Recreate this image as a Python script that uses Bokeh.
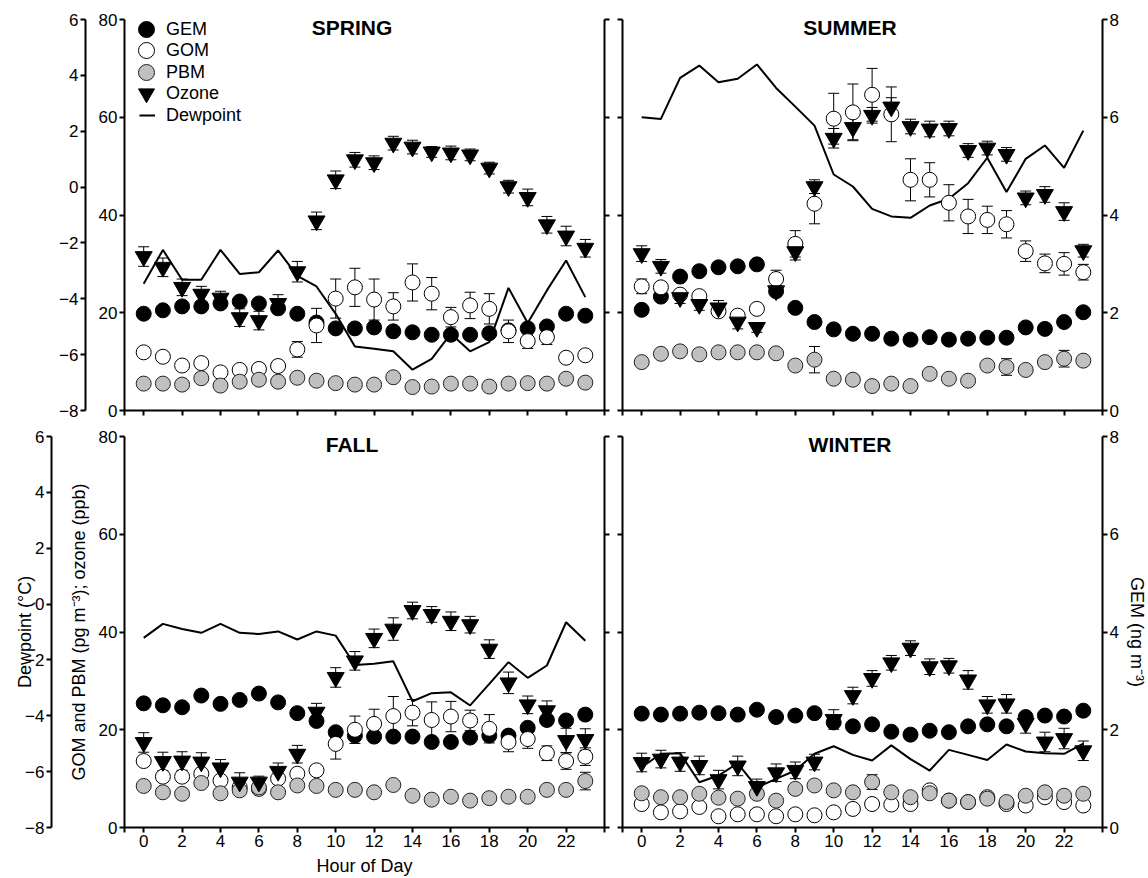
from bokeh.plotting import figure
from bokeh.models import (Range1d, LinearAxis, FixedTicker, ColumnDataSource, Whisker,
                          TeeHead, Legend, LegendItem, Label)
from bokeh.layouts import column, row
from bokeh.embed import file_html
from bokeh.resources import INLINE

hours = list(range(24))
x_ticks = [-1] + list(range(0, 24, 2)) + [24]
left_ticks = [0, 20, 40, 60, 80]
dew_ticks = [-8, -6, -4, -2, 0, 2, 4, 6]
gem_ticks = [0, 2, 4, 6, 8]

# ---------------- SPRING ----------------
spring_gem = [1.98, 2.05, 2.13, 2.13, 2.19, 2.23, 2.19, 2.09, 1.98, 1.80, 1.68, 1.68,
              1.70, 1.62, 1.60, 1.55, 1.55, 1.55, 1.58, 1.64, 1.68, 1.72, 1.98, 1.94]
spring_gom = [11.9, 11.0, 9.2, 9.7, 7.8, 8.3, 8.5, 9.1, 12.5, 17.4, 22.9, 25.2,
              22.7, 21.3, 26.2, 23.9, 19.1, 21.5, 20.8, 16.2, 14.2, 15.0, 10.8, 11.3]
spring_gom_err = [1.0, 1.0, 1.0, 1.0, 1.0, 1.0, 1.0, 1.0, 1.6, 3.5, 4.0, 3.9,
                  4.2, 2.8, 3.8, 3.3, 2.0, 2.7, 3.1, 2.3, 1.5, 1.5, 1.0, 1.0]
spring_pbm = [5.5, 5.5, 5.3, 6.6, 5.1, 5.9, 6.3, 5.9, 6.7, 6.1, 5.6, 5.3,
              5.3, 6.8, 4.8, 4.9, 5.5, 5.5, 4.9, 5.5, 5.6, 5.5, 6.5, 5.7]
spring_pbm_err = [0.8] * 24
spring_ozone = [31.5, 29.3, 25.2, 23.8, 23.0, 19.0, 18.4, 21.9, 28.4, 38.8, 47.2, 51.3,
                50.7, 54.7, 53.9, 52.9, 52.7, 52.3, 49.6, 45.8, 43.6, 38.0, 35.7, 33.2]
spring_ozone_err = [2.0, 1.9, 1.7, 1.6, 1.4, 1.8, 1.9, 1.8, 2.1, 1.8, 1.8, 1.5,
                    1.4, 1.4, 1.4, 1.1, 1.4, 1.2, 1.2, 1.3, 1.7, 1.7, 2.0, 1.8]
spring_dew = [-3.46, -2.25, -3.32, -3.32, -2.25, -3.11, -3.05, -2.27, -3.18, -3.56, -4.54, -5.71,
              -5.79, -5.88, -6.54, -6.15, -5.25, -5.88, -5.55, -3.61, -4.87, -3.70, -2.63, -3.94]

# ---------------- SUMMER ----------------
summer_gem = [2.06, 2.33, 2.74, 2.85, 2.93, 2.95, 2.99, 2.44, 2.10, 1.81, 1.66, 1.57,
              1.57, 1.47, 1.45, 1.50, 1.45, 1.47, 1.49, 1.49, 1.70, 1.67, 1.81, 2.01]
summer_gom = [25.4, 25.2, 23.7, 23.4, 20.3, 19.4, 20.8, 26.9, 34.1, 42.3, 59.7, 61.0,
              64.6, 60.6, 47.2, 47.2, 42.5, 39.7, 39.0, 38.1, 32.6, 30.1, 30.0, 28.3]
summer_gom_err = [1.5, 1.0, 1.0, 1.0, 1.0, 1.0, 1.0, 1.8, 2.7, 4.1, 5.2, 5.8,
                  5.4, 5.6, 4.3, 3.5, 3.7, 3.5, 2.8, 2.8, 2.1, 1.9, 2.3, 1.6]
summer_pbm = [9.9, 11.6, 12.1, 11.5, 11.9, 11.9, 11.9, 11.7, 9.2, 10.4, 6.5, 6.3,
              5.0, 5.5, 5.0, 7.5, 6.5, 6.1, 9.2, 8.9, 8.3, 9.9, 10.6, 10.2]
summer_pbm_err = [0.8, 0.8, 0.8, 0.8, 0.8, 0.8, 0.8, 0.8, 0.8, 2.7, 0.8, 0.8,
                  0.8, 0.8, 0.8, 0.8, 0.8, 0.8, 0.8, 1.7, 0.8, 0.8, 1.7, 0.8]
summer_ozone = [32.1, 29.5, 23.1, 21.7, 21.0, 18.1, 17.0, 24.5, 32.5, 45.8, 55.7, 57.9,
                60.4, 62.1, 58.1, 57.6, 57.7, 53.2, 53.7, 52.4, 43.5, 44.2, 40.7, 32.7]
summer_ozone_err = [1.6, 1.4, 1.2, 1.2, 1.5, 1.4, 1.0, 1.0, 1.7, 1.4, 2.0, 2.5,
                    1.6, 1.9, 1.5, 1.6, 1.5, 1.4, 1.4, 1.4, 1.4, 1.6, 1.8, 1.3]
summer_dew = [2.50, 2.44, 3.91, 4.35, 3.75, 3.88, 4.39, 3.55, 2.88, 2.20, 0.45, 0.02,
              -0.78, -1.05, -1.10, -0.66, -0.42, 0.14, 1.05, -0.18, 1.01, 1.49, 0.69, 2.02]

# ---------------- FALL ----------------
fall_gem = [2.54, 2.50, 2.46, 2.70, 2.53, 2.61, 2.74, 2.56, 2.34, 2.18, 1.95, 1.88,
            1.86, 1.86, 1.86, 1.75, 1.75, 1.84, 1.88, 1.88, 2.04, 2.20, 2.19, 2.31]
fall_gom = [13.6, 10.4, 10.4, 11.0, 9.6, 8.2, 7.9, 10.0, 11.0, 11.7, 17.1, 20.0,
            21.2, 22.8, 23.5, 22.0, 22.7, 21.9, 20.2, 17.5, 18.1, 15.2, 13.6, 14.5]
fall_gom_err = [1.0, 1.0, 1.0, 1.0, 1.0, 1.0, 1.0, 1.0, 1.0, 1.0, 3.1, 2.8,
                3.0, 4.0, 2.7, 3.7, 3.1, 2.1, 2.9, 2.0, 1.9, 1.5, 1.7, 1.8]
fall_pbm = [8.5, 7.2, 6.9, 9.1, 7.0, 7.6, 8.2, 7.2, 8.6, 8.5, 7.7, 7.7,
            7.2, 8.7, 6.5, 5.7, 6.3, 5.5, 6.0, 6.3, 6.3, 7.7, 7.7, 9.5]
fall_pbm_err = [0.8] * 23 + [1.8]
fall_ozone = [17.4, 13.5, 13.6, 13.4, 12.2, 9.3, 9.3, 11.5, 15.0, 23.6, 30.7, 34.1,
              38.7, 40.6, 44.4, 43.6, 42.2, 41.5, 36.5, 29.6, 25.1, 23.9, 17.8, 18.0]
fall_ozone_err = [2.0, 1.9, 1.9, 1.9, 1.7, 1.9, 1.2, 1.7, 1.8, 1.8, 2.0, 1.9,
                  1.9, 2.3, 1.7, 1.6, 1.9, 1.7, 1.9, 2.2, 1.8, 2.0, 2.5, 2.2]
fall_dew = [-1.21, -0.71, -0.89, -1.03, -0.71, -1.03, -1.07, -0.98, -1.27, -0.98, -1.13, -2.18,
            -2.14, -2.05, -3.48, -3.19, -3.16, -3.63, -2.86, -2.08, -2.64, -2.20, -0.65, -1.31]

# ---------------- WINTER ----------------
winter_gem = [2.33, 2.31, 2.33, 2.35, 2.34, 2.31, 2.41, 2.26, 2.29, 2.34, 2.15, 2.07,
              2.11, 1.96, 1.90, 1.98, 1.95, 2.07, 2.11, 2.07, 2.26, 2.29, 2.27, 2.39]
winter_gom = [4.8, 3.1, 3.3, 4.2, 2.3, 2.7, 2.7, 2.3, 2.7, 2.5, 3.1, 3.8,
              4.8, 4.7, 4.8, 7.6, 5.5, 5.2, 6.2, 4.8, 4.5, 6.2, 5.2, 4.5]
winter_gom_err = [0.8] * 24
winter_pbm = [7.0, 6.2, 6.2, 6.9, 6.1, 5.9, 6.9, 5.5, 7.9, 8.6, 7.6, 7.2,
              9.3, 7.2, 6.2, 7.0, 5.5, 5.2, 5.9, 5.2, 6.5, 7.2, 6.5, 6.9]
winter_pbm_err = [0.8] * 12 + [1.5] + [0.8] * 11
winter_ozone = [13.3, 14.0, 13.4, 12.7, 9.8, 12.6, 8.4, 11.2, 11.7, 13.4, 22.1, 27.0,
                30.5, 33.7, 36.7, 32.9, 33.1, 30.2, 25.1, 25.3, 21.3, 17.5, 18.2, 15.7]
winter_ozone_err = [1.9, 1.8, 1.9, 1.9, 1.9, 2.0, 1.5, 1.8, 1.7, 1.6, 2.0, 1.7,
                    1.6, 1.5, 1.5, 1.6, 1.5, 1.9, 1.7, 1.9, 2.0, 2.0, 2.1, 2.0]
winter_dew = [-5.84, -5.36, -5.34, -6.38, -6.14, -5.70, -6.56, -6.26, -5.96, -5.36, -5.09, -5.40,
              -5.60, -5.06, -5.55, -5.96, -5.22, -5.40, -5.58, -5.03, -5.28, -5.34, -5.36, -5.00]

legend_labels = ["GEM", "GOM", "PBM", "Ozone", "Dewpoint"]

FONT = "Liberation Sans"
PBM_GRAY = "#c0c0c0"


def style_axis(ax):
    ax.axis_line_width = 2
    ax.axis_line_color = "black"
    ax.major_tick_line_width = 2
    ax.major_tick_line_color = "black"
    ax.major_tick_in = 0
    ax.major_tick_out = 5
    ax.minor_tick_line_color = None
    ax.minor_tick_out = 0
    ax.minor_tick_in = 0
    ax.major_label_text_font = FONT
    ax.major_label_text_font_size = "17px"
    ax.major_label_text_color = "black"
    ax.major_label_standoff = 2
    ax.axis_label_text_font = FONT
    ax.axis_label_text_font_size = "18px"
    ax.axis_label_text_font_style = "normal"
    ax.axis_label_text_color = "black"


def blank(ax, ticks):
    ax.major_label_overrides = {t: "" for t in ticks}
    ax.major_label_standoff = 0


def build(name, gem, gom, gom_err, pbm, pbm_err, oz, oz_err, dew, left, bottom, legend=False):
    p = figure(frame_width=480, frame_height=391,
               x_range=Range1d(-1, 24), y_range=Range1d(0, 80),
               output_backend="svg", toolbar_location=None,
               min_border_left=124 if left else 9,
               min_border_right=9 if left else 46,
               min_border_top=16 if bottom else 19,
               min_border_bottom=51 if bottom else 10)
    p.extra_y_ranges = {"dew": Range1d(-8, 6), "gem": Range1d(0, 8)}
    p.xgrid.visible = False
    p.ygrid.visible = False
    p.outline_line_color = None
    p.background_fill_color = "white"
    p.border_fill_color = "white"

    # x axis
    xax = p.below[0]
    xax.ticker = FixedTicker(ticks=x_ticks)
    style_axis(xax)
    if bottom:
        xax.major_label_overrides = {-1: "", 24: ""}
        if left:
            xax.axis_label = "Hour of Day"
            xax.axis_label_standoff = 6
    else:
        blank(xax, x_ticks)

    # main left axis (GOM/PBM/ozone)
    yax = p.left[0]
    yax.ticker = FixedTicker(ticks=left_ticks)
    style_axis(yax)
    if left:
        if bottom:
            yax.axis_label = "GOM and PBM (pg m\u207b\u00b3); ozone (ppb)"
            yax.axis_label_standoff = 7
        # invisible (white) spacer between the two left axes
        spacer = LinearAxis(ticker=FixedTicker(ticks=[80]),
                            axis_line_color="white", axis_line_width=1,
                            major_tick_out=14 if bottom else 10, major_tick_in=0,
                            major_tick_line_color="white", major_tick_line_width=1,
                            minor_tick_line_color=None, minor_tick_out=0,
                            major_label_standoff=0, major_label_overrides={80: ""})
        p.add_layout(spacer, "left")
        dax = LinearAxis(y_range_name="dew", ticker=FixedTicker(ticks=dew_ticks))
        style_axis(dax)
        if bottom:
            dax.axis_label = "Dewpoint (\u00b0C)"
            dax.axis_label_standoff = -13
        p.add_layout(dax, "left")
        gax = LinearAxis(y_range_name="gem", ticker=FixedTicker(ticks=gem_ticks))
        style_axis(gax)
        blank(gax, gem_ticks)
        p.add_layout(gax, "right")
    else:
        blank(yax, left_ticks)
        gax = LinearAxis(y_range_name="gem", ticker=FixedTicker(ticks=gem_ticks))
        style_axis(gax)
        if bottom:
            gax.axis_label = "GEM (ng m\u207b\u00b3)"
            gax.axis_label_standoff = 5
        p.add_layout(gax, "right")

    src = ColumnDataSource(dict(
        h=hours, gem=gem, gom=gom, pbm=pbm, oz=oz, dew=dew,
        gom_lo=[a - b for a, b in zip(gom, gom_err)], gom_hi=[a + b for a, b in zip(gom, gom_err)],
        pbm_lo=[a - b for a, b in zip(pbm, pbm_err)], pbm_hi=[a + b for a, b in zip(pbm, pbm_err)],
        oz_lo=[a - b for a, b in zip(oz, oz_err)], oz_hi=[a + b for a, b in zip(oz, oz_err)],
    ))

    for lo, hi in [("oz_lo", "oz_hi"), ("gom_lo", "gom_hi"), ("pbm_lo", "pbm_hi")]:
        w = Whisker(source=src, base="h", lower=lo, upper=hi,
                    line_color="black", line_width=1, level="underlay",
                    upper_head=TeeHead(size=11, line_color="black", line_width=1),
                    lower_head=TeeHead(size=11, line_color="black", line_width=1))
        p.add_layout(w)

    r_dew = p.line("h", "dew", source=src, y_range_name="dew", line_color="black", line_width=2)
    r_gem = p.scatter("h", "gem", source=src, y_range_name="gem", marker="circle", size=15,
                      fill_color="black", line_color="black", line_width=1)
    r_gom = p.scatter("h", "gom", source=src, marker="circle", size=15,
                      fill_color="white", line_color="black", line_width=1)
    r_pbm = p.scatter("h", "pbm", source=src, marker="circle", size=15,
                      fill_color=PBM_GRAY, line_color="#222222", line_width=1)
    r_oz = p.scatter("h", "oz", source=src, marker="inverted_triangle", size=17,
                     fill_color="black", line_color="black", line_width=1)

    p.add_layout(Label(x=10.85, y=78.3, text=name, text_align="center", text_baseline="middle",
                       text_font=FONT, text_font_style="bold", text_font_size="21px",
                       text_color="black"))

    if legend:
        rends = [r_gem, r_gom, r_pbm, r_oz, r_dew]
        bottoms = [361, 340, 318, 297, 275]
        for lab, r, yb in zip(legend_labels, rends, bottoms):
            is_line = (r is r_dew)
            leg = Legend(items=[LegendItem(label=lab, renderers=[r])],
                         location=(15 if is_line else 2, yb),
                         glyph_width=16 if is_line else 40, glyph_height=40,
                         label_standoff=11 if is_line else 0, padding=0, margin=0,
                         border_line_color=None, background_fill_alpha=0,
                         label_text_font=FONT, label_text_font_size="18px",
                         label_text_color="black")
            p.add_layout(leg)
    return p


p1 = build("SPRING", spring_gem, spring_gom, spring_gom_err, spring_pbm, spring_pbm_err,
           spring_ozone, spring_ozone_err, spring_dew, left=True, bottom=False, legend=True)
p2 = build("SUMMER", summer_gem, summer_gom, summer_gom_err, summer_pbm, summer_pbm_err,
           summer_ozone, summer_ozone_err, summer_dew, left=False, bottom=False)
p3 = build("FALL", fall_gem, fall_gom, fall_gom_err, fall_pbm, fall_pbm_err,
           fall_ozone, fall_ozone_err, fall_dew, left=True, bottom=True)
p4 = build("WINTER", winter_gem, winter_gom, winter_gom_err, winter_pbm, winter_pbm_err,
           winter_ozone, winter_ozone_err, winter_dew, left=False, bottom=True)

layout = column(row(p1, p2), row(p3, p4))
open("out.html", "w").write(file_html(layout, INLINE, "Seasonal diurnal cycles"))
